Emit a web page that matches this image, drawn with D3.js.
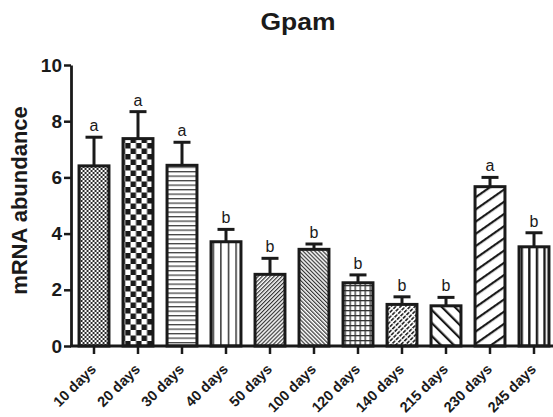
<!DOCTYPE html>
<html>
<head>
<meta charset="utf-8">
<script src="https://cdn.jsdelivr.net/npm/d3@7"></script>
<style>
  html, body { margin: 0; padding: 0; background: #fff; }
  svg { display: block; }
  text { font-family: "Liberation Sans", Arial, Helvetica, sans-serif; fill: #1a1a1a; }
</style>
</head>
<body>
<svg id="chart" width="553" height="417"></svg>
<script>
// Gpam expression over time (mean ± SEM) with significance letters
const categories = ["10 days", "20 days", "30 days", "40 days", "50 days", "100 days",
                    "120 days", "140 days", "215 days", "230 days", "245 days"];
const means   = [6.41, 7.38, 6.43, 3.71, 2.55, 3.44, 2.25, 1.48, 1.43, 5.67, 3.53];
const errors  = [1.02, 0.96, 0.82, 0.44, 0.57, 0.19, 0.28, 0.27, 0.30, 0.33, 0.50];
const letters = ["a", "a", "a", "b", "b", "b", "b", "b", "b", "a", "b"];
const yTicks  = [0, 2, 4, 6, 8, 10];

// fill pattern kind for each bar, in category order
const fills = ["fineCheck", "check", "hLines", "vLines", "diagFine", "backFine",
               "grid", "weave", "backWide", "diagWide", "vLinesBold"];

const svg = d3.select("#chart");
const ink = "#1a1a1a";

const x = d3.scaleBand()
  .domain(categories)
  .range([72, 556])
  .paddingInner(0.32)
  .paddingOuter(0.16);

const y = d3.scaleLinear().domain([0, 10]).range([346, 65]);

const defs = svg.append("defs");

// builds one pattern anchored to a bar's left edge
function makePattern(id, kind, x0) {
  const p = defs.append("pattern")
    .attr("id", id)
    .attr("patternUnits", "userSpaceOnUse");
  const set = (w, h, rot) => {
    p.attr("width", w).attr("height", h).attr("x", x0).attr("y", 0);
    if (rot) p.attr("patternTransform", `rotate(${rot} ${x0} 0)`);
    p.append("rect").attr("width", w).attr("height", h).attr("fill", "#fff");
  };
  const r = (a, b, w, h, c) => p.append("rect")
    .attr("x", a).attr("y", b).attr("width", w).attr("height", h).attr("fill", c || ink);
  switch (kind) {
    case "fineCheck":
      set(4, 4); r(0, 0, 2, 2, "#2a2a2a"); r(2, 2, 2, 2, "#2a2a2a"); break;
    case "check":
      set(11, 11); r(0.5, 0, 5.5, 5.5); r(6, 5.5, 5.5, 5.5); r(-5, 5.5, 5.5, 5.5); break;
    case "hLines":
      set(4, 4.5); r(0, 0, 4, 1.3, "#444"); break;
    case "vLines":
      set(7.6, 4); r(0, 0, 1.5, 4, "#333"); break;
    case "diagFine":
      set(2.8, 4, 45); r(0, 0, 1.2, 4, "#333"); break;
    case "backFine":
      set(2.8, 4, -45); r(0, 0, 1.2, 4, "#333"); break;
    case "grid":
      set(5, 5); r(0, 0, 5, 1.3, "#333"); r(0, 0, 1.3, 5, "#333"); break;
    case "weave":
      set(3.4, 5, 45); r(0, 0, 1.6, 5, "#222"); r(0, 0, 3.4, 1.3, "#fff"); break;
    case "backWide":
      set(9.2, 4, -45); r(0, 0, 2.2, 4); break;
    case "diagWide":
      set(4, 10, -35); r(0, 0, 4, 2.2); break;
    case "vLinesBold":
      set(7.6, 4); r(0, 0, 2.4, 4); break;
  }
}

categories.forEach((c, i) => makePattern("pat" + i, fills[i], x(c) + 1.5));

// title and axis title
svg.append("text")
  .attr("x", 298).attr("y", 30)
  .attr("text-anchor", "middle")
  .attr("font-size", 24).attr("font-weight", "bold")
  .attr("textLength", 75).attr("lengthAdjust", "spacingAndGlyphs")
  .text("Gpam");

svg.append("text")
  .attr("transform", `translate(27,${(y(0) + y(10)) / 2 - 5}) rotate(-90)`)
  .attr("text-anchor", "middle")
  .attr("font-size", 22).attr("font-weight", "bold")
  .text("mRNA abundance");

// error bars sit behind the bars
const err = svg.append("g")
  .attr("stroke", ink).attr("stroke-width", 3).attr("fill", "none");
categories.forEach((c, i) => {
  const cx = x(c) + x.bandwidth() / 2;
  err.append("line")
    .attr("x1", cx).attr("x2", cx)
    .attr("y1", y(means[i])).attr("y2", y(means[i] + errors[i]));
  err.append("line")
    .attr("x1", cx - 8.5).attr("x2", cx + 8.5)
    .attr("y1", y(means[i] + errors[i])).attr("y2", y(means[i] + errors[i]));
});

svg.append("g")
  .selectAll("rect")
  .data(categories)
  .join("rect")
  .attr("x", d => x(d))
  .attr("width", x.bandwidth())
  .attr("y", (d, i) => y(means[i]))
  .attr("height", (d, i) => y(0) - y(means[i]))
  .attr("fill", (d, i) => `url(#pat${i})`)
  .attr("stroke", ink)
  .attr("stroke-width", 3);

svg.append("g")
  .selectAll("text")
  .data(categories)
  .join("text")
  .attr("x", d => x(d) + x.bandwidth() / 2)
  .attr("y", (d, i) => y(means[i] + errors[i]) - 6)
  .attr("text-anchor", "middle")
  .attr("font-size", 16)
  .text((d, i) => letters[i]);

// axes
const yAxis = svg.append("g")
  .attr("transform", "translate(71,0)")
  .call(d3.axisLeft(y).tickValues(yTicks).tickFormat(d3.format("d"))
    .tickSize(7).tickSizeOuter(0).tickPadding(2));
yAxis.select(".domain").attr("stroke", ink).attr("stroke-width", 2.8);
yAxis.selectAll(".tick line").attr("stroke", ink).attr("stroke-width", 2.5);
yAxis.selectAll(".tick text")
  .attr("font-size", 19).attr("font-weight", "bold")
  .attr("font-family", "'Liberation Sans', Arial, sans-serif")
  .attr("fill", ink);

const xAxis = svg.append("g")
  .attr("transform", "translate(0,346)")
  .call(d3.axisBottom(x).tickSize(8).tickSizeOuter(0));
xAxis.select(".domain")
  .attr("d", "M70,0H556")
  .attr("stroke", ink).attr("stroke-width", 2.8);
xAxis.selectAll(".tick line").attr("stroke", ink).attr("stroke-width", 2.5);
xAxis.selectAll(".tick text")
  .attr("x", null).attr("y", null).attr("dy", null)
  .attr("transform", "translate(3,24) rotate(-45)")
  .attr("text-anchor", "end")
  .attr("font-size", 14.5).attr("font-weight", "bold")
  .attr("font-family", "'Liberation Sans', Arial, sans-serif")
  .attr("fill", ink);
</script>
</body>
</html>
